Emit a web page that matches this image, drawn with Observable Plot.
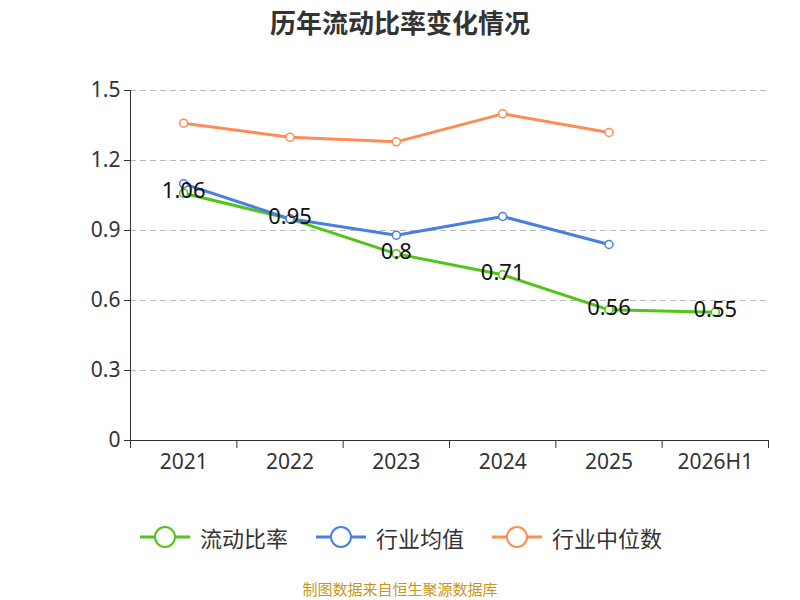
<!DOCTYPE html>
<html><head><meta charset="utf-8">
<script src="https://cdn.jsdelivr.net/npm/d3@7"></script>
<script src="https://cdn.jsdelivr.net/npm/@observablehq/plot@0.6"></script>
<style>
body{margin:0;font-family:"Noto Sans CJK SC","Noto Sans",sans-serif;background:#fff}
#wrap{position:relative;width:800px;height:600px}
#title{position:absolute;top:3px;width:800px;text-align:center;font-size:26px;font-weight:bold;color:#333}
#legend{position:absolute;top:521px;width:800px;display:flex;justify-content:center;gap:26px;font-size:22px;color:#333}
#legend span{display:flex;align-items:center;gap:8px}
#cap{position:absolute;top:578px;width:800px;text-align:center;font-size:15px;color:#c8961e}
</style></head><body>
<div id="wrap"><div id="title">历年流动比率变化情况</div><div id="chart"></div><div id="legend"></div><div id="cap">制图数据来自恒生聚源数据库</div></div>
<script>
const categories=["2021","2022","2023","2024","2025","2026H1"];
const ratio=[1.06,0.95,0.8,0.71,0.56,0.55];
const industryAvg=[1.10,0.95,0.88,0.96,0.84];
const industryMed=[1.36,1.30,1.28,1.40,1.32];
const seriesNames=["流动比率","行业均值","行业中位数"];
const colors=["#52c41a","#4a7fe0","#ff8c55"];
const rows=[];
[ratio,industryAvg,industryMed].forEach((arr,s)=>arr.forEach((v,i)=>rows.push({i,v,s:seriesNames[s]})));
const lbl=ratio.map((v,i)=>({i,v}));
const edges=d3.range(categories.length+1).map(k=>k-0.5);
const chart=Plot.plot({
 width:800,height:480,marginTop:90,marginLeft:130,marginRight:32,marginBottom:40,
 style:{fontSize:"21px",fontFamily:"Noto Sans, sans-serif",color:"#333"},
 x:{domain:[-0.5,categories.length-0.5]},
 y:{domain:[0,1.5]},
 color:{domain:seriesNames,range:colors},
 marks:[
  Plot.gridY([0.3,0.6,0.9,1.2,1.5],{stroke:"#bbb",strokeOpacity:1,strokeDasharray:"6,4"}),
  Plot.axisY([0,0.3,0.6,0.9,1.2,1.5],{tickSize:6,tickFormat:d=>d===0?"0":d.toFixed(1),fontSize:21,label:null,tickPadding:4}),
  Plot.ruleX([-0.5],{stroke:"#333"}),
  Plot.ruleY([0],{stroke:"#333"}),
  Plot.axisX(edges,{tickSize:8,tickFormat:()=>"",label:null}),
  Plot.axisX(d3.range(categories.length),{tickSize:0,tickPadding:14,tickFormat:i=>categories[i],fontSize:21,label:null}),
  Plot.line(rows,{x:"i",y:"v",z:"s",stroke:"s",strokeWidth:3}),
  Plot.dot(rows,{x:"i",y:"v",stroke:"s",fill:"white",r:4,strokeWidth:1.5}),
  Plot.text(lbl,{x:"i",y:"v",text:d=>String(d.v),fontSize:22,fill:"#111",dy:-2})
 ]
});
document.getElementById("chart").appendChild(chart);
const lg=document.getElementById("legend");
seriesNames.forEach((n,k)=>{const s=document.createElement("span");
s.innerHTML=`<svg width="54" height="26"><line x1="2" x2="52" y1="13" y2="13" stroke="${colors[k]}" stroke-width="3"/><circle cx="27" cy="13" r="10" fill="white" stroke="${colors[k]}" stroke-width="2"/></svg>${n}`;lg.appendChild(s);});
</script></body></html>
